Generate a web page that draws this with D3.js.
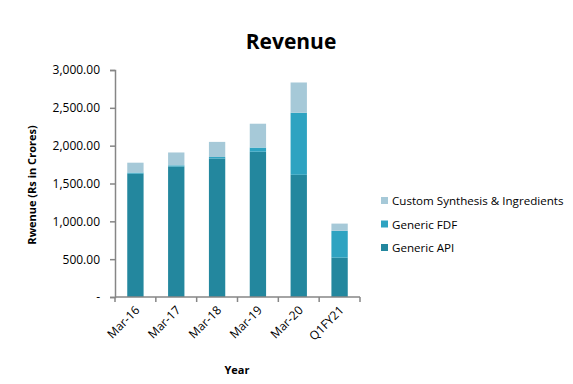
<!DOCTYPE html>
<html>
<head>
<meta charset="utf-8">
<script src="https://cdn.jsdelivr.net/npm/d3@7"></script>
<style>
  body { margin: 0; background: #fff; }
  text { font-family: "Open Sans", "Liberation Sans", sans-serif; }
</style>
</head>
<body>
<svg id="chart"></svg>
<script>
const years = ['Mar-16', 'Mar-17', 'Mar-18', 'Mar-19', 'Mar-20', 'Q1FY21'];
const genericApi = [1630, 1725, 1830, 1920, 1615, 520];
const genericFdf = [15, 15, 20, 55, 820, 355];
const customSynthesis = [130, 170, 200, 315, 400, 95];
const yTicks = [0, 500, 1000, 1500, 2000, 2500, 3000];

const seriesNames = ['Generic API', 'Generic FDF', 'Custom Synthesis & Ingredients'];
const colors = ['#23879e', '#2ea3c1', '#a6c9d8'];

const width = 573, height = 384;
const margin = { top: 70, right: 213, bottom: 87, left: 115 };

const svg = d3.select('#chart').attr('width', width).attr('height', height);

const rows = years.map((y, i) => ({
  year: y,
  'Generic API': genericApi[i],
  'Generic FDF': genericFdf[i],
  'Custom Synthesis & Ingredients': customSynthesis[i]
}));
const stacked = d3.stack().keys(seriesNames)(rows);

const x = d3.scaleBand()
  .domain(years)
  .range([margin.left, width - margin.right])
  .paddingInner(0.6)
  .paddingOuter(0.3);

const y = d3.scaleLinear()
  .domain([0, 3000])
  .range([height - margin.bottom, margin.top]);

// bars
svg.append('g')
  .selectAll('g')
  .data(stacked)
  .join('g')
  .attr('fill', (d, i) => colors[i])
  .selectAll('rect')
  .data(d => d)
  .join('rect')
  .attr('x', d => x(d.data.year))
  .attr('y', d => y(d[1]))
  .attr('width', x.bandwidth())
  .attr('height', d => y(d[0]) - y(d[1]));

const axisColor = '#868686';

// y axis
const yAxis = svg.append('g')
  .attr('transform', `translate(${margin.left},0)`)
  .call(d3.axisLeft(y).tickValues(yTicks).tickSize(5).tickPadding(10)
    .tickFormat(v => v === 0 ? '-' : d3.format(',.2f')(v)));
yAxis.select('.domain').attr('stroke', axisColor).attr('stroke-width', 1.5);
yAxis.selectAll('.tick line').attr('stroke', axisColor).attr('stroke-width', 1.5);
yAxis.selectAll('text').style('font-size', '12px').attr('fill', '#000');

// x axis with ticks at category boundaries
const xAxisG = svg.append('g')
  .attr('transform', `translate(0,${height - margin.bottom})`);
xAxisG.append('line')
  .attr('x1', margin.left).attr('x2', width - margin.right)
  .attr('stroke', axisColor).attr('stroke-width', 1.5);
const step = x.step();
const bounds = d3.range(years.length + 1).map(i => margin.left + i * step);
xAxisG.selectAll('line.tk')
  .data(bounds)
  .join('line')
  .attr('class', 'tk')
  .attr('x1', d => d).attr('x2', d => d)
  .attr('y1', 0).attr('y2', 5)
  .attr('stroke', axisColor).attr('stroke-width', 1.5);
xAxisG.selectAll('text')
  .data(years)
  .join('text')
  .attr('transform', d => `translate(${x(d) + x.bandwidth() / 2 + 5},${14}) rotate(-45)`)
  .attr('text-anchor', 'end')
  .style('font-size', '12px')
  .text(d => d);

// title
svg.append('text')
  .attr('x', 291).attr('y', 49)
  .attr('text-anchor', 'middle')
  .style('font-size', '21px').style('font-weight', 'bold')
  .text('Revenue');

// axis titles
svg.append('text')
  .attr('transform', `translate(36,185) rotate(-90)`)
  .attr('text-anchor', 'middle')
  .style('font-size', '11px').style('font-weight', 'bold')
  .text('Rwenue (Rs in Crores)');

svg.append('text')
  .attr('x', 237).attr('y', 374)
  .attr('text-anchor', 'middle')
  .style('font-size', '11px').style('font-weight', 'bold')
  .text('Year');

// legend
const legendItems = [
  { name: 'Custom Synthesis & Ingredients', color: colors[2] },
  { name: 'Generic FDF', color: colors[1] },
  { name: 'Generic API', color: colors[0] }
];
const legend = svg.append('g').attr('transform', 'translate(381,201)');
legend.selectAll('g')
  .data(legendItems)
  .join('g')
  .attr('transform', (d, i) => `translate(0,${i * 23.5})`)
  .each(function(d) {
    const g = d3.select(this);
    g.append('rect').attr('x', 0).attr('y', -4).attr('width', 7).attr('height', 7).attr('fill', d.color);
    g.append('text').attr('x', 11).attr('y', 4).style('font-size', '11.6px').text(d.name);
  });
</script>
</body>
</html>
